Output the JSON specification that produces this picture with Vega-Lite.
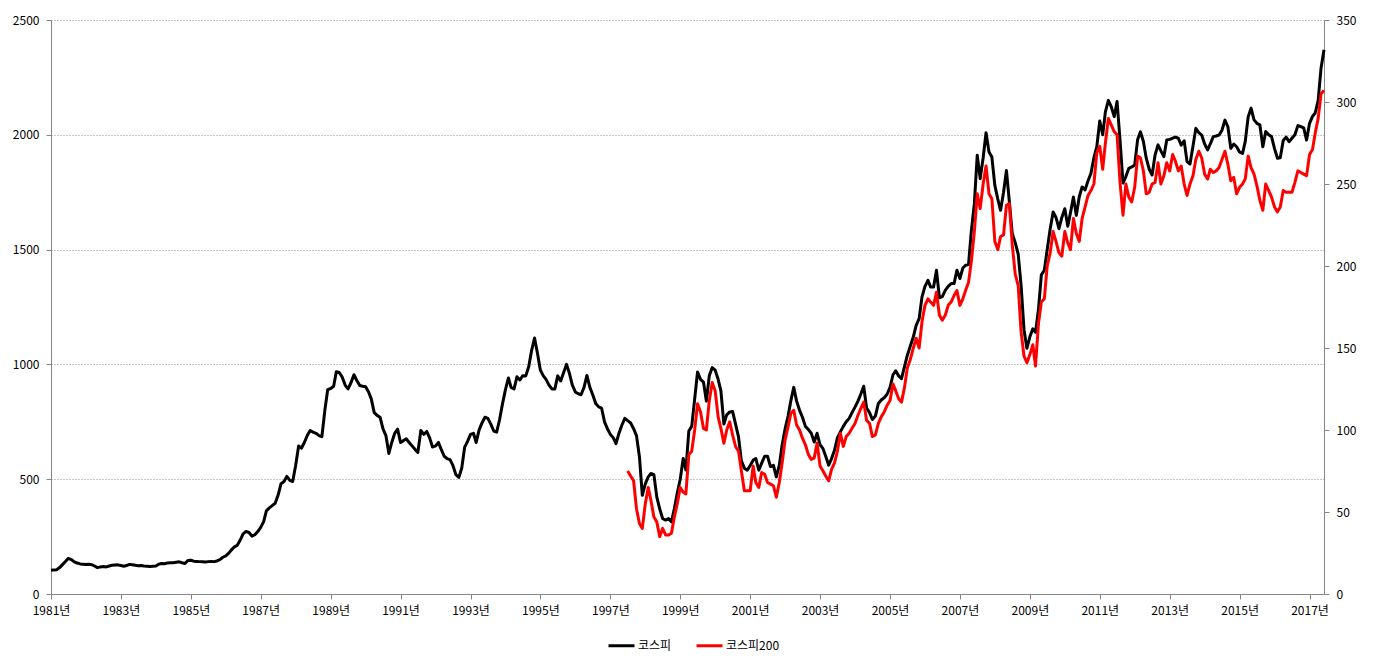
{
  "$schema": "https://vega.github.io/schema/vega-lite/v6.json",
  "width": 1273,
  "height": 574,
  "autosize": {"type": "none"},
  "padding": {"left": 51, "top": 20, "right": 49, "bottom": 75},
  "background": "white",
  "config": {
    "view": {"stroke": null},
    "font": "Noto Sans CJK KR",
    "axis": {
      "labelFont": "Noto Sans CJK KR",
      "labelFontSize": 12,
      "labelColor": "#000000",
      "domainColor": "#868686",
      "tickColor": "#868686",
      "tickSize": 5,
      "grid": false,
      "title": null
    },
    "legend": {"labelFont": "Noto Sans CJK KR"}
  },
  "data": {
    "values": [
      {"m":"1981-01","k":103},{"m":"1981-02","k":105},{"m":"1981-03","k":106},{"m":"1981-04","k":115},{"m":"1981-05","k":128},{"m":"1981-06","k":142},{"m":"1981-07","k":155},{"m":"1981-08","k":150},{"m":"1981-09","k":140},{"m":"1981-10","k":135},{"m":"1981-11","k":131},{"m":"1981-12","k":130},
      {"m":"1982-01","k":129},{"m":"1982-02","k":130},{"m":"1982-03","k":128},{"m":"1982-04","k":122},{"m":"1982-05","k":115},{"m":"1982-06","k":118},{"m":"1982-07","k":120},{"m":"1982-08","k":118},{"m":"1982-09","k":122},{"m":"1982-10","k":125},{"m":"1982-11","k":126},{"m":"1982-12","k":127},
      {"m":"1983-01","k":124},{"m":"1983-02","k":121},{"m":"1983-03","k":124},{"m":"1983-04","k":129},{"m":"1983-05","k":127},{"m":"1983-06","k":125},{"m":"1983-07","k":123},{"m":"1983-08","k":124},{"m":"1983-09","k":122},{"m":"1983-10","k":121},{"m":"1983-11","k":120},{"m":"1983-12","k":121},
      {"m":"1984-01","k":122},{"m":"1984-02","k":130},{"m":"1984-03","k":133},{"m":"1984-04","k":132},{"m":"1984-05","k":135},{"m":"1984-06","k":136},{"m":"1984-07","k":136},{"m":"1984-08","k":138},{"m":"1984-09","k":140},{"m":"1984-10","k":136},{"m":"1984-11","k":133},{"m":"1984-12","k":146},
      {"m":"1985-01","k":147},{"m":"1985-02","k":143},{"m":"1985-03","k":142},{"m":"1985-04","k":141},{"m":"1985-05","k":140},{"m":"1985-06","k":139},{"m":"1985-07","k":141},{"m":"1985-08","k":142},{"m":"1985-09","k":141},{"m":"1985-10","k":144},{"m":"1985-11","k":150},{"m":"1985-12","k":160},
      {"m":"1986-01","k":166},{"m":"1986-02","k":178},{"m":"1986-03","k":192},{"m":"1986-04","k":205},{"m":"1986-05","k":212},{"m":"1986-06","k":235},{"m":"1986-07","k":262},{"m":"1986-08","k":272},{"m":"1986-09","k":268},{"m":"1986-10","k":252},{"m":"1986-11","k":258},{"m":"1986-12","k":272},
      {"m":"1987-01","k":290},{"m":"1987-02","k":315},{"m":"1987-03","k":362},{"m":"1987-04","k":375},{"m":"1987-05","k":385},{"m":"1987-06","k":395},{"m":"1987-07","k":430},{"m":"1987-08","k":480},{"m":"1987-09","k":490},{"m":"1987-10","k":512},{"m":"1987-11","k":495},{"m":"1987-12","k":490},
      {"m":"1988-01","k":560},{"m":"1988-02","k":645},{"m":"1988-03","k":635},{"m":"1988-04","k":660},{"m":"1988-05","k":690},{"m":"1988-06","k":712},{"m":"1988-07","k":705},{"m":"1988-08","k":700},{"m":"1988-09","k":690},{"m":"1988-10","k":685},{"m":"1988-11","k":800},{"m":"1988-12","k":890},
      {"m":"1989-01","k":895},{"m":"1989-02","k":905},{"m":"1989-03","k":968},{"m":"1989-04","k":965},{"m":"1989-05","k":945},{"m":"1989-06","k":910},{"m":"1989-07","k":893},{"m":"1989-08","k":920},{"m":"1989-09","k":955},{"m":"1989-10","k":930},{"m":"1989-11","k":908},{"m":"1989-12","k":905},
      {"m":"1990-01","k":903},{"m":"1990-02","k":880},{"m":"1990-03","k":850},{"m":"1990-04","k":790},{"m":"1990-05","k":778},{"m":"1990-06","k":770},{"m":"1990-07","k":720},{"m":"1990-08","k":690},{"m":"1990-09","k":612},{"m":"1990-10","k":660},{"m":"1990-11","k":700},{"m":"1990-12","k":718},
      {"m":"1991-01","k":660},{"m":"1991-02","k":668},{"m":"1991-03","k":676},{"m":"1991-04","k":660},{"m":"1991-05","k":645},{"m":"1991-06","k":630},{"m":"1991-07","k":617},{"m":"1991-08","k":712},{"m":"1991-09","k":695},{"m":"1991-10","k":708},{"m":"1991-11","k":680},{"m":"1991-12","k":640},
      {"m":"1992-01","k":645},{"m":"1992-02","k":660},{"m":"1992-03","k":630},{"m":"1992-04","k":600},{"m":"1992-05","k":590},{"m":"1992-06","k":585},{"m":"1992-07","k":560},{"m":"1992-08","k":520},{"m":"1992-09","k":508},{"m":"1992-10","k":548},{"m":"1992-11","k":640},{"m":"1992-12","k":665},
      {"m":"1993-01","k":695},{"m":"1993-02","k":700},{"m":"1993-03","k":660},{"m":"1993-04","k":715},{"m":"1993-05","k":745},{"m":"1993-06","k":770},{"m":"1993-07","k":765},{"m":"1993-08","k":740},{"m":"1993-09","k":710},{"m":"1993-10","k":705},{"m":"1993-11","k":760},{"m":"1993-12","k":828},
      {"m":"1994-01","k":890},{"m":"1994-02","k":941},{"m":"1994-03","k":900},{"m":"1994-04","k":893},{"m":"1994-05","k":946},{"m":"1994-06","k":932},{"m":"1994-07","k":951},{"m":"1994-08","k":950},{"m":"1994-09","k":990},{"m":"1994-10","k":1060},{"m":"1994-11","k":1115},{"m":"1994-12","k":1050},
      {"m":"1995-01","k":975},{"m":"1995-02","k":950},{"m":"1995-03","k":935},{"m":"1995-04","k":910},{"m":"1995-05","k":893},{"m":"1995-06","k":893},{"m":"1995-07","k":950},{"m":"1995-08","k":928},{"m":"1995-09","k":965},{"m":"1995-10","k":1000},{"m":"1995-11","k":960},{"m":"1995-12","k":910},
      {"m":"1996-01","k":880},{"m":"1996-02","k":872},{"m":"1996-03","k":868},{"m":"1996-04","k":900},{"m":"1996-05","k":952},{"m":"1996-06","k":900},{"m":"1996-07","k":868},{"m":"1996-08","k":830},{"m":"1996-09","k":815},{"m":"1996-10","k":810},{"m":"1996-11","k":750},{"m":"1996-12","k":720},
      {"m":"1997-01","k":695},{"m":"1997-02","k":680},{"m":"1997-03","k":655},{"m":"1997-04","k":700},{"m":"1997-05","k":735},{"m":"1997-06","k":765},{"m":"1997-07","k":755,"p":75},{"m":"1997-08","k":745,"p":72},{"m":"1997-09","k":720,"p":69},{"m":"1997-10","k":690,"p":52},{"m":"1997-11","k":597,"p":43},{"m":"1997-12","k":430,"p":40},
      {"m":"1998-01","k":480,"p":55},{"m":"1998-02","k":510,"p":65},{"m":"1998-03","k":525,"p":57},{"m":"1998-04","k":520,"p":47},{"m":"1998-05","k":423,"p":44},{"m":"1998-06","k":370,"p":35},{"m":"1998-07","k":329,"p":40},{"m":"1998-08","k":322,"p":36},{"m":"1998-09","k":329,"p":36},{"m":"1998-10","k":314,"p":37},{"m":"1998-11","k":372,"p":47},{"m":"1998-12","k":440,"p":55},
      {"m":"1999-01","k":500,"p":65},{"m":"1999-02","k":590,"p":62},{"m":"1999-03","k":540,"p":61},{"m":"1999-04","k":710,"p":85},{"m":"1999-05","k":730,"p":87},{"m":"1999-06","k":850,"p":100},{"m":"1999-07","k":967,"p":116},{"m":"1999-08","k":935,"p":111},{"m":"1999-09","k":923,"p":101},{"m":"1999-10","k":840,"p":100},{"m":"1999-11","k":952,"p":118},{"m":"1999-12","k":986,"p":129},
      {"m":"2000-01","k":975,"p":124},{"m":"2000-02","k":935,"p":108},{"m":"2000-03","k":885,"p":101},{"m":"2000-04","k":740,"p":92},{"m":"2000-05","k":780,"p":100},{"m":"2000-06","k":793,"p":105},{"m":"2000-07","k":795,"p":97},{"m":"2000-08","k":740,"p":90},{"m":"2000-09","k":684,"p":87},{"m":"2000-10","k":580,"p":75},{"m":"2000-11","k":548,"p":63},{"m":"2000-12","k":539,"p":63},
      {"m":"2001-01","k":560,"p":63},{"m":"2001-02","k":583,"p":78},{"m":"2001-03","k":590,"p":68},{"m":"2001-04","k":539,"p":65},{"m":"2001-05","k":570,"p":74},{"m":"2001-06","k":600,"p":73},{"m":"2001-07","k":600,"p":68},{"m":"2001-08","k":555,"p":67},{"m":"2001-09","k":560,"p":66},{"m":"2001-10","k":510,"p":59},{"m":"2001-11","k":560,"p":68},{"m":"2001-12","k":650,"p":80},
      {"m":"2002-01","k":720,"p":94},{"m":"2002-02","k":775,"p":102},{"m":"2002-03","k":840,"p":110},{"m":"2002-04","k":900,"p":112},{"m":"2002-05","k":840,"p":103},{"m":"2002-06","k":800,"p":100},{"m":"2002-07","k":770,"p":95},{"m":"2002-08","k":730,"p":91},{"m":"2002-09","k":716,"p":85},{"m":"2002-10","k":700,"p":82},{"m":"2002-11","k":662,"p":83},{"m":"2002-12","k":700,"p":92},
      {"m":"2003-01","k":650,"p":78},{"m":"2003-02","k":633,"p":75},{"m":"2003-03","k":600,"p":72},{"m":"2003-04","k":561,"p":69},{"m":"2003-05","k":590,"p":76},{"m":"2003-06","k":626,"p":80},{"m":"2003-07","k":680,"p":87},{"m":"2003-08","k":706,"p":98},{"m":"2003-09","k":730,"p":90},{"m":"2003-10","k":750,"p":96},{"m":"2003-11","k":765,"p":98},{"m":"2003-12","k":790,"p":101},
      {"m":"2004-01","k":814,"p":104},{"m":"2004-02","k":840,"p":109},{"m":"2004-03","k":870,"p":113},{"m":"2004-04","k":905,"p":117},{"m":"2004-05","k":810,"p":106},{"m":"2004-06","k":790,"p":104},{"m":"2004-07","k":760,"p":96},{"m":"2004-08","k":775,"p":97},{"m":"2004-09","k":830,"p":104},{"m":"2004-10","k":845,"p":108},{"m":"2004-11","k":855,"p":111},{"m":"2004-12","k":870,"p":115},
      {"m":"2005-01","k":900,"p":118},{"m":"2005-02","k":955,"p":128},{"m":"2005-03","k":972,"p":124},{"m":"2005-04","k":950,"p":119},{"m":"2005-05","k":938,"p":117},{"m":"2005-06","k":990,"p":126},{"m":"2005-07","k":1040,"p":138},{"m":"2005-08","k":1080,"p":143},{"m":"2005-09","k":1119,"p":150},{"m":"2005-10","k":1170,"p":156},{"m":"2005-11","k":1199,"p":150},{"m":"2005-12","k":1294,"p":166},
      {"m":"2006-01","k":1340,"p":176},{"m":"2006-02","k":1366,"p":180},{"m":"2006-03","k":1337,"p":178},{"m":"2006-04","k":1337,"p":176},{"m":"2006-05","k":1410,"p":184},{"m":"2006-06","k":1290,"p":170},{"m":"2006-07","k":1295,"p":167},{"m":"2006-08","k":1322,"p":170},{"m":"2006-09","k":1340,"p":176},{"m":"2006-10","k":1352,"p":178},{"m":"2006-11","k":1352,"p":182},{"m":"2006-12","k":1410,"p":185},
      {"m":"2007-01","k":1374,"p":176},{"m":"2007-02","k":1420,"p":180},{"m":"2007-03","k":1432,"p":185},{"m":"2007-04","k":1435,"p":190},{"m":"2007-05","k":1584,"p":203},{"m":"2007-06","k":1700,"p":221},{"m":"2007-07","k":1911,"p":244},{"m":"2007-08","k":1809,"p":235},{"m":"2007-09","k":1900,"p":250},{"m":"2007-10","k":2009,"p":261},{"m":"2007-11","k":1925,"p":244},{"m":"2007-12","k":1903,"p":241},
      {"m":"2008-01","k":1780,"p":215},{"m":"2008-02","k":1720,"p":210},{"m":"2008-03","k":1671,"p":218},{"m":"2008-04","k":1750,"p":219},{"m":"2008-05","k":1845,"p":237},{"m":"2008-06","k":1707,"p":238},{"m":"2008-07","k":1570,"p":213},{"m":"2008-08","k":1530,"p":195},{"m":"2008-09","k":1480,"p":188},{"m":"2008-10","k":1345,"p":160},{"m":"2008-11","k":1150,"p":145},{"m":"2008-12","k":1070,"p":141},
      {"m":"2009-01","k":1120,"p":146},{"m":"2009-02","k":1155,"p":152},{"m":"2009-03","k":1140,"p":139},{"m":"2009-04","k":1240,"p":165},{"m":"2009-05","k":1390,"p":178},{"m":"2009-06","k":1410,"p":180},{"m":"2009-07","k":1500,"p":200},{"m":"2009-08","k":1590,"p":208},{"m":"2009-09","k":1664,"p":221},{"m":"2009-10","k":1640,"p":215},{"m":"2009-11","k":1591,"p":208},{"m":"2009-12","k":1640,"p":206},
      {"m":"2010-01","k":1678,"p":221},{"m":"2010-02","k":1602,"p":214},{"m":"2010-03","k":1660,"p":210},{"m":"2010-04","k":1729,"p":229},{"m":"2010-05","k":1649,"p":220},{"m":"2010-06","k":1730,"p":215},{"m":"2010-07","k":1773,"p":229},{"m":"2010-08","k":1760,"p":236},{"m":"2010-09","k":1800,"p":243},{"m":"2010-10","k":1832,"p":246},{"m":"2010-11","k":1900,"p":250},{"m":"2010-12","k":1947,"p":269},
      {"m":"2011-01","k":2060,"p":273},{"m":"2011-02","k":2000,"p":259},{"m":"2011-03","k":2100,"p":275},{"m":"2011-04","k":2150,"p":290},{"m":"2011-05","k":2123,"p":286},{"m":"2011-06","k":2079,"p":282},{"m":"2011-07","k":2145,"p":280},{"m":"2011-08","k":1977,"p":251},{"m":"2011-09","k":1790,"p":231},{"m":"2011-10","k":1818,"p":250},{"m":"2011-11","k":1854,"p":242},{"m":"2011-12","k":1860,"p":239},
      {"m":"2012-01","k":1868,"p":248},{"m":"2012-02","k":1980,"p":267},{"m":"2012-03","k":2013,"p":266},{"m":"2012-04","k":1971,"p":258},{"m":"2012-05","k":1898,"p":244},{"m":"2012-06","k":1850,"p":245},{"m":"2012-07","k":1825,"p":250},{"m":"2012-08","k":1912,"p":251},{"m":"2012-09","k":1956,"p":263},{"m":"2012-10","k":1930,"p":250},{"m":"2012-11","k":1905,"p":255},{"m":"2012-12","k":1977,"p":263},
      {"m":"2013-01","k":1980,"p":258},{"m":"2013-02","k":1985,"p":268},{"m":"2013-03","k":1990,"p":264},{"m":"2013-04","k":1985,"p":258},{"m":"2013-05","k":1955,"p":261},{"m":"2013-06","k":1974,"p":250},{"m":"2013-07","k":1883,"p":243},{"m":"2013-08","k":1873,"p":250},{"m":"2013-09","k":1950,"p":255},{"m":"2013-10","k":2028,"p":265},{"m":"2013-11","k":2010,"p":270},{"m":"2013-12","k":1999,"p":266},
      {"m":"2014-01","k":1960,"p":256},{"m":"2014-02","k":1934,"p":253},{"m":"2014-03","k":1960,"p":259},{"m":"2014-04","k":1992,"p":257},{"m":"2014-05","k":1995,"p":258},{"m":"2014-06","k":1999,"p":260},{"m":"2014-07","k":2020,"p":265},{"m":"2014-08","k":2064,"p":270},{"m":"2014-09","k":2035,"p":262},{"m":"2014-10","k":1941,"p":252},{"m":"2014-11","k":1960,"p":254},{"m":"2014-12","k":1948,"p":244},
      {"m":"2015-01","k":1925,"p":248},{"m":"2015-02","k":1919,"p":250},{"m":"2015-03","k":1970,"p":253},{"m":"2015-04","k":2079,"p":267},{"m":"2015-05","k":2116,"p":260},{"m":"2015-06","k":2065,"p":256},{"m":"2015-07","k":2050,"p":249},{"m":"2015-08","k":2043,"p":240},{"m":"2015-09","k":1948,"p":234},{"m":"2015-10","k":2014,"p":250},{"m":"2015-11","k":2000,"p":246},{"m":"2015-12","k":1992,"p":242},
      {"m":"2016-01","k":1940,"p":236},{"m":"2016-02","k":1898,"p":233},{"m":"2016-03","k":1900,"p":236},{"m":"2016-04","k":1975,"p":246},{"m":"2016-05","k":1990,"p":245},{"m":"2016-06","k":1970,"p":245},{"m":"2016-07","k":1985,"p":245},{"m":"2016-08","k":2000,"p":251},{"m":"2016-09","k":2040,"p":258},{"m":"2016-10","k":2036,"p":257},{"m":"2016-11","k":2030,"p":256},{"m":"2016-12","k":1977,"p":255},
      {"m":"2017-01","k":2050,"p":268},{"m":"2017-02","k":2080,"p":271},{"m":"2017-03","k":2095,"p":281},{"m":"2017-04","k":2150,"p":290},{"m":"2017-05","k":2290,"p":305},{"m":"2017-06","k":2370,"p":307}
    ]
  },
  "encoding": {
    "x": {
      "field": "m",
      "type": "temporal",
      "scale": {
        "type": "utc",
        "domain": [
          {"year": 1981, "month": 1, "date": 1, "utc": true},
          {"year": 2017, "month": 6, "date": 1, "utc": true}
        ]
      },
      "axis": {
        "format": "%Y년",
        "labelPadding": 6,
        "labelFlush": false,
        "labelOverlap": false,
        "values": [
          {"year": 1981, "month": 1, "date": 1, "utc": true},
          {"year": 1983, "month": 1, "date": 1, "utc": true},
          {"year": 1985, "month": 1, "date": 1, "utc": true},
          {"year": 1987, "month": 1, "date": 1, "utc": true},
          {"year": 1989, "month": 1, "date": 1, "utc": true},
          {"year": 1991, "month": 1, "date": 1, "utc": true},
          {"year": 1993, "month": 1, "date": 1, "utc": true},
          {"year": 1995, "month": 1, "date": 1, "utc": true},
          {"year": 1997, "month": 1, "date": 1, "utc": true},
          {"year": 1999, "month": 1, "date": 1, "utc": true},
          {"year": 2001, "month": 1, "date": 1, "utc": true},
          {"year": 2003, "month": 1, "date": 1, "utc": true},
          {"year": 2005, "month": 1, "date": 1, "utc": true},
          {"year": 2007, "month": 1, "date": 1, "utc": true},
          {"year": 2009, "month": 1, "date": 1, "utc": true},
          {"year": 2011, "month": 1, "date": 1, "utc": true},
          {"year": 2013, "month": 1, "date": 1, "utc": true},
          {"year": 2015, "month": 1, "date": 1, "utc": true},
          {"year": 2017, "month": 1, "date": 1, "utc": true}
        ]
      }
    }
  },
  "layer": [
    {
      "mark": {"type": "line", "strokeWidth": 3, "strokeJoin": "round"},
      "encoding": {
        "y": {
          "field": "k",
          "type": "quantitative",
          "scale": {"domain": [0, 2500], "nice": false},
          "axis": {
            "orient": "left",
            "format": "d",
            "values": [0, 500, 1000, 1500, 2000, 2500],
            "grid": true,
            "gridColor": "#8c8c8c",
            "gridDash": [1, 2],
            "gridWidth": 1,
            "labelPadding": 7
          }
        },
        "color": {
          "datum": "코스피",
          "type": "nominal",
          "scale": {"domain": ["코스피", "코스피200"], "range": ["#000000", "#ff0000"]},
          "legend": {
            "orient": "none",
            "legendX": 556,
            "legendY": 611,
            "direction": "horizontal",
            "title": null,
            "symbolType": "stroke",
            "symbolStrokeWidth": 3,
            "symbolSize": 676,
            "labelFontSize": 12,
            "labelColor": "#000000",
            "labelOffset": 2,
            "columnPadding": 18
          }
        }
      }
    },
    {
      "transform": [{"filter": "isValid(datum.p)"}],
      "mark": {"type": "line", "strokeWidth": 3, "strokeJoin": "round"},
      "encoding": {
        "y": {
          "field": "p",
          "type": "quantitative",
          "scale": {"domain": [0, 350], "nice": false},
          "axis": {
            "orient": "right",
            "format": "d",
            "values": [0, 50, 100, 150, 200, 250, 300, 350],
            "labelPadding": 7
          }
        },
        "color": {"datum": "코스피200", "type": "nominal"}
      }
    }
  ],
  "resolve": {"scale": {"y": "independent"}}
}
